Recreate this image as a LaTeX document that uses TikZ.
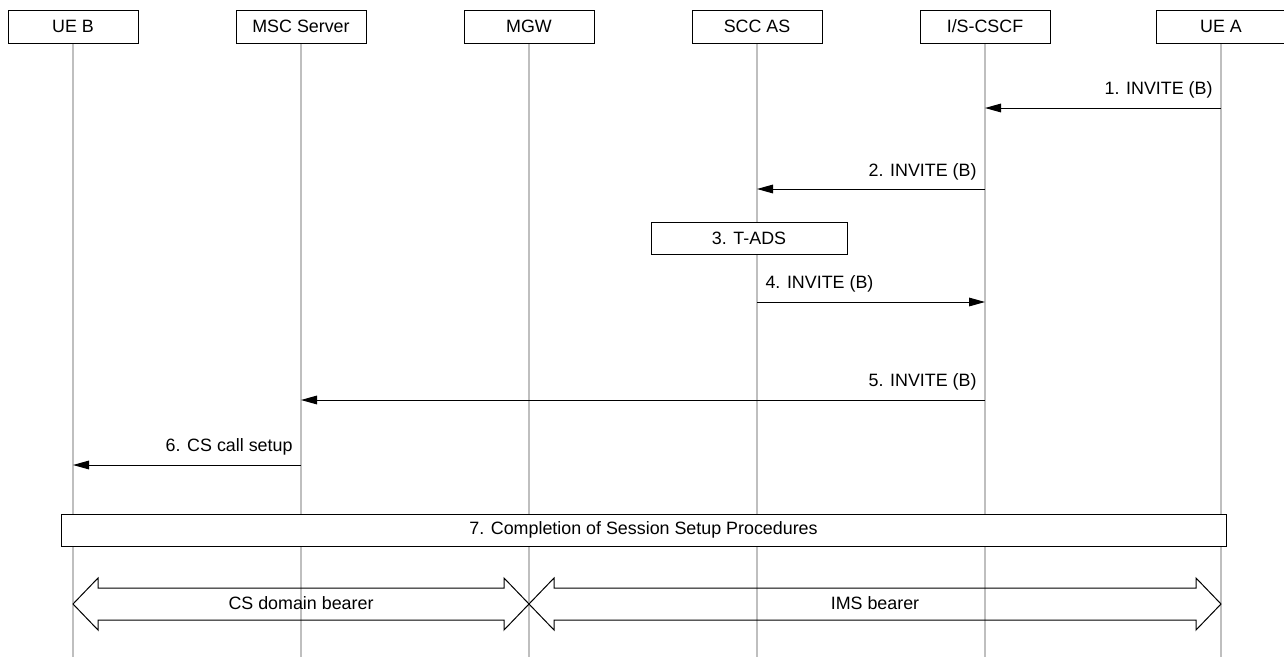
\documentclass[tikz,border=0pt]{standalone}
\usepackage{fontspec}
\setmainfont{Liberation Sans}
\usetikzlibrary{arrows.meta}

\tikzset{
  entity/.style={draw, line width=0.75pt, fill=white, minimum width=97.5pt, minimum height=24.75pt, inner sep=0pt},
  procbox/.style={draw, line width=0.75pt, fill=white, minimum height=24pt, inner sep=0pt},
  lifeline/.style={draw=black!25, line width=1.1pt},
  msg/.style={line width=0.75pt, -{Triangle[length=12pt,width=6.5pt]}},
  lbl/.style={inner sep=0pt},
  bearer/.style={line width=0.75pt, line join=miter}
}

\begin{document}
\begin{tikzpicture}[x=0.75pt,y=0.75pt,yscale=-1,xscale=1,font=\fontsize{13.4pt}{16pt}\selectfont]
\useasboundingbox (0,0) rectangle (1284,657);

% lifelines
\foreach \lx in {73,301,529,757,985,1221}
  \draw[lifeline] (\lx,43) -- (\lx,657);

% Entities
\node[entity] (ueb) at (73,26.5) {UE B};
\node[entity] (msc) at (301,26.5) {MSC Server};
\node[entity] (mgw) at (529,26.5) {MGW};
\node[entity] (scc) at (757,26.5) {SCC AS};
\node[entity] (cscf) at (985,26.5) {I/S-CSCF};
\node[entity] (uea) at (1221,26.5) {UE A};

% 1
\draw[msg] (uea |- 0,108) -- (cscf |- 0,108) node[lbl, pos=0, anchor=east, xshift=-6pt, yshift=13.5pt] {1. INVITE (B)};
% 2
\draw[msg] (cscf |- 0,189) -- (scc |- 0,189) node[lbl, pos=0, anchor=east, xshift=-6pt, yshift=13pt] {2. INVITE (B)};
% 3
\node[procbox, minimum width=147pt] (tads) at (749,238) {3. T-ADS};
% 4
\draw[msg] (scc |- 0,302) -- (cscf |- 0,302) node[lbl, pos=0, anchor=west, xshift=6pt, yshift=13.5pt] {4. INVITE (B)};
% 5
\draw[msg] (cscf |- 0,400) -- (msc |- 0,400) node[lbl, pos=0, anchor=east, xshift=-6pt, yshift=13.5pt] {5. INVITE (B)};
% 6
\draw[msg] (msc |- 0,465) -- (ueb |- 0,465) node[lbl, pos=0, anchor=east, xshift=-6pt, yshift=13.5pt] {6. CS call setup};
% 7
\node[procbox, minimum width=873.75pt] (compl) at (643.5,530) {7. Completion of Session Setup Procedures};

% bearers
\draw[bearer] (73,604) -- (98,578) -- (98,588) -- (504,588) -- (504,578) -- (529,604) -- (504,630) -- (504,620) -- (98,620) -- (98,630) -- cycle;
\node (csbearer) at (301,603) {CS domain bearer};
\draw[bearer] (529,604) -- (554,578) -- (554,588) -- (1196,588) -- (1196,578) -- (1221,604) -- (1196,630) -- (1196,620) -- (554,620) -- (554,630) -- cycle;
\node (imsbearer) at (875,603) {IMS bearer};

\end{tikzpicture}
\end{document}
